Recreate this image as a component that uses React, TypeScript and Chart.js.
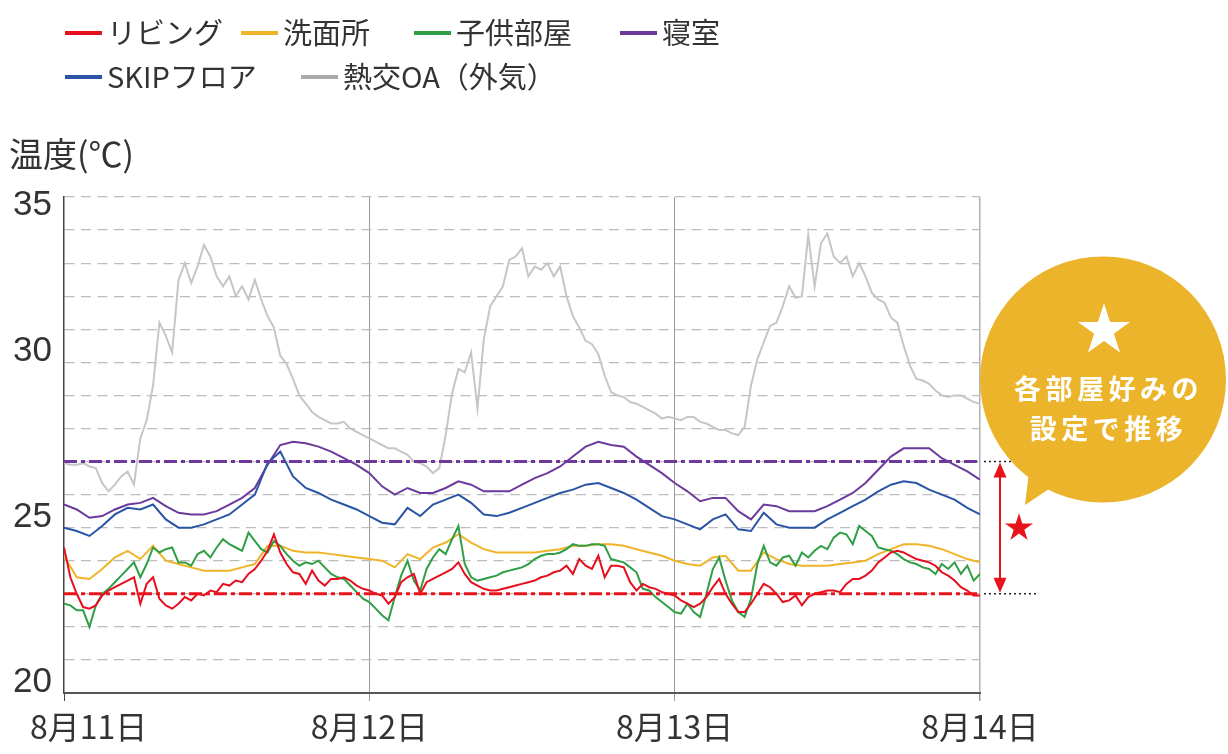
import React, { useEffect, useRef } from 'react';
import { Chart, registerables } from 'chart.js';

Chart.register(...registerables);

// ---- data ----
const dayLabels = ['8月11日', '8月12日', '8月13日', '8月14日'];
const yTickLabels = [20, 25, 30, 35];
const seriesNames = ['リビング', '洗面所', '子供部屋', '寝室', 'SKIPフロア', '熱交OA（外気）'];
const seriesColors = ['#e60f1e', '#f0b429', '#2f9e44', '#6b3a9c', '#2a55a4', '#c6c6c6'];
const legendLineColors = ['#e60f1e', '#f0b429', '#2f9e44', '#6b3a9c', '#2a55a4', '#aaaaaa'];

const bedroomSetting = 27;
const livingSetting = 23;

// every 30 minutes, 8/11 0:00 -> 8/14 0:00
const livingTemps = [
  24.4, 23.5, 23.0, 22.6, 22.55, 22.65, 22.95, 23.1, 23.2, 23.3, 23.4, 23.5,
  22.7, 23.3, 23.5, 22.85, 22.65, 22.55, 22.7, 22.9, 22.8, 23.0, 22.95, 23.1,
  23.05, 23.3, 23.25, 23.4, 23.35, 23.6, 23.75, 24.0, 24.3, 24.8, 24.25, 23.9,
  23.65, 23.6, 23.3, 23.7, 23.4, 23.25, 23.45, 23.45, 23.5, 23.4, 23.25, 23.15,
  23.1, 23.0, 22.95, 22.7, 22.9, 23.35, 23.5, 23.6, 23.0, 23.35, 23.45, 23.55,
  23.65, 23.75, 23.95, 23.6, 23.35, 23.25, 23.15, 23.1, 23.1, 23.15, 23.2, 23.25,
  23.3, 23.35, 23.4, 23.5, 23.55, 23.65, 23.7, 23.85, 23.6, 24.05, 23.85, 23.75,
  24.15, 23.5, 23.85, 23.85, 23.8, 23.35, 23.1, 23.3, 23.2, 23.15, 23.05, 23.0,
  22.95, 22.8, 22.7, 22.6, 22.7, 22.9, 23.2, 23.45, 23.0, 22.7, 22.45, 22.45,
  22.7, 23.0, 23.3, 23.2, 23.0, 22.75, 22.8, 22.95, 22.65, 22.9, 23.0, 23.05,
  23.1, 23.1, 23.05, 23.3, 23.45, 23.45, 23.55, 23.7, 23.95, 24.1, 24.25, 24.3,
  24.25, 24.15, 24.05, 24.0, 23.95, 23.85, 23.65, 23.55, 23.4, 23.2, 23.1, 22.95,
  22.95,
];

const kidsRoomTemps = [
  22.7, 22.65, 22.5, 22.5, 22.0, 22.65, 23.0, 23.15, 23.35, 23.55, 23.75, 23.95,
  23.5, 23.9, 24.4, 24.25, 24.35, 24.4, 23.95, 23.95, 23.85, 24.2, 24.3, 24.1,
  24.4, 24.65, 24.5, 24.4, 24.3, 24.85, 24.6, 24.35, 24.25, 24.6, 24.45, 24.2,
  24.0, 23.85, 23.95, 23.9, 24.0, 23.8, 23.6, 23.5, 23.45, 23.25, 23.05, 22.85,
  22.75, 22.55, 22.35, 22.2, 22.9, 23.55, 24.0, 23.4, 23.1, 23.75, 24.1, 24.35,
  24.2, 24.65, 25.05, 23.9, 23.5, 23.4, 23.45, 23.5, 23.55, 23.65, 23.7, 23.75,
  23.8, 23.9, 24.05, 24.15, 24.2, 24.2, 24.25, 24.35, 24.5, 24.45, 24.45, 24.5,
  24.5, 24.45, 24.05, 24.0, 23.95, 23.8, 23.65, 23.15, 23.1, 22.9, 22.75, 22.6,
  22.45, 22.4, 22.7, 22.45, 22.3, 23.0, 23.75, 24.1, 23.4, 22.8, 22.45, 22.3,
  22.85, 23.9, 24.45, 23.95, 23.85, 24.1, 24.15, 23.85, 24.25, 24.1, 24.3, 24.45,
  24.35, 24.7, 24.85, 24.8, 24.5, 25.05, 24.9, 24.75, 24.4, 24.35, 24.3, 24.2,
  24.05, 23.95, 23.9, 23.8, 23.75, 23.6, 23.9, 23.75, 23.95, 23.6, 23.85, 23.4,
  23.6,
];

const outsideTemps = [
  26.95, 26.9, 26.9, 26.95, 26.85, 26.8, 26.35, 26.1, 26.3, 26.55, 26.7, 26.3,
  27.7, 28.25, 29.3, 31.2, 30.8, 30.3, 32.5, 33.0, 32.4, 32.9, 33.55, 33.2,
  32.6, 32.3, 32.6, 32.0, 32.3, 31.9, 32.5, 31.9, 31.4, 31.05, 30.2, 29.95,
  29.5, 29.0, 28.75, 28.5, 28.35, 28.25, 28.15, 28.15, 28.2, 28.0, 27.9, 27.8,
  27.7, 27.6, 27.5, 27.4, 27.4, 27.3, 27.2, 27.0, 26.95, 26.85, 26.65, 26.8,
  27.8, 29.05, 29.8, 29.7, 30.3, 28.6, 30.7, 31.7, 32.0, 32.3, 33.1, 33.2,
  33.45, 32.6, 32.9, 32.8, 33.0, 32.6, 32.9, 32.0, 31.4, 31.05, 30.65, 30.55,
  30.25, 29.6, 29.1, 29.0, 28.95, 28.8, 28.75, 28.65, 28.55, 28.45, 28.3, 28.35,
  28.3, 28.25, 28.35, 28.35, 28.2, 28.15, 28.05, 27.95, 27.95, 27.85, 27.8, 28.05,
  29.3, 30.1, 30.6, 31.1, 31.2, 31.7, 32.3, 31.95, 32.0, 33.85, 32.3, 33.6,
  33.9, 33.2, 33.0, 33.2, 32.6, 33.0, 32.6, 32.1, 31.9, 31.8, 31.35, 31.2,
  30.5, 29.9, 29.5, 29.45, 29.35, 29.15, 29.0, 28.95, 29.0, 29.0, 28.9, 28.8,
  28.75,
];

// every hour, 8/11 0:00 -> 8/14 0:00
const washroomTemps = [
  24.15, 23.5, 23.45, 23.75, 24.1, 24.3, 24.05, 24.45, 24.0, 23.9,
  23.8, 23.7, 23.7, 23.7, 23.8, 23.9, 24.45, 24.45, 24.3, 24.25,
  24.25, 24.2, 24.15, 24.1, 24.05, 24.0, 23.8, 24.2, 24.05, 24.4,
  24.55, 24.8, 24.55, 24.35, 24.25, 24.25, 24.25, 24.25, 24.3, 24.35,
  24.45, 24.45, 24.5, 24.5, 24.45, 24.35, 24.25, 24.15, 24.0, 23.9,
  23.85, 24.1, 24.15, 23.7, 23.7, 24.25, 24.05, 23.9, 23.85, 23.85,
  23.85, 23.9, 23.95, 24.0, 24.2, 24.35, 24.5, 24.5, 24.45, 24.35,
  24.2, 24.05, 23.95,
];

const bedroomTemps = [
  25.7, 25.55, 25.3, 25.35, 25.55, 25.7, 25.75, 25.9, 25.65, 25.45,
  25.4, 25.4, 25.5, 25.7, 25.9, 26.2, 26.9, 27.5, 27.6, 27.55,
  27.45, 27.3, 27.1, 26.9, 26.65, 26.25, 26.0, 26.2, 26.05, 26.05,
  26.2, 26.4, 26.3, 26.1, 26.1, 26.1, 26.3, 26.5, 26.65, 26.85,
  27.15, 27.45, 27.6, 27.5, 27.45, 27.15, 26.9, 26.65, 26.35, 26.1,
  25.8, 25.9, 25.9, 25.5, 25.25, 25.7, 25.65, 25.5, 25.5, 25.5,
  25.65, 25.85, 26.05, 26.35, 26.75, 27.15, 27.4, 27.4, 27.4, 27.1,
  26.9, 26.7, 26.45,
];

const skipFloorTemps = [
  25.0, 24.9, 24.75, 25.05, 25.4, 25.6, 25.55, 25.7, 25.25, 25.0,
  25.0, 25.1, 25.25, 25.4, 25.7, 26.0, 26.95, 27.3, 26.55, 26.2,
  26.05, 25.85, 25.7, 25.55, 25.35, 25.15, 25.1, 25.6, 25.35, 25.7,
  25.85, 26.0, 25.75, 25.4, 25.35, 25.45, 25.6, 25.75, 25.9, 26.05,
  26.15, 26.3, 26.35, 26.2, 26.05, 25.85, 25.6, 25.35, 25.25, 25.1,
  24.95, 25.25, 25.4, 24.95, 24.9, 25.45, 25.1, 25.0, 25.0, 25.0,
  25.25, 25.45, 25.65, 25.85, 26.1, 26.3, 26.4, 26.35, 26.15, 26.0,
  25.85, 25.6, 25.4,
];

const halfHourly = (arr: number[]) => arr.map((v, i) => ({ x: i / 2, y: v }));
const hourly = (arr: number[]) => arr.map((v, i) => ({ x: i, y: v }));

function drawStar(ctx: CanvasRenderingContext2D, cx: number, cy: number, r: number, color: string) {
  const inner = r * 0.382;
  ctx.beginPath();
  for (let i = 0; i < 10; i++) {
    const rad = i % 2 === 0 ? r : inner;
    const a = -Math.PI / 2 + (i * Math.PI) / 5;
    const px = cx + rad * Math.cos(a);
    const py = cy + rad * Math.sin(a);
    if (i === 0) ctx.moveTo(px, py);
    else ctx.lineTo(px, py);
  }
  ctx.closePath();
  ctx.fillStyle = color;
  ctx.fill();
}

const decorPlugin = {
  id: 'decor',
  afterDraw(chart: any) {
    const { ctx, chartArea, scales } = chart;
    const x = scales.x;
    const y = scales.y;
    ctx.save();
    // y tick labels
    ctx.fillStyle = '#333';
    ctx.font = '35px "Liberation Sans", Arial, sans-serif';
    ctx.textAlign = 'right';
    ctx.textBaseline = 'alphabetic';
    yTickLabels.forEach((v) => {
      const py = y.getPixelForValue(v);
      const base = v === y.max ? py + 18 : py - 1;
      ctx.fillText(String(v), chartArea.left - 12, base);
    });
    // x tick labels
    ctx.font = '32px "Noto Sans CJK JP", sans-serif';
    ctx.textBaseline = 'middle';
    dayLabels.forEach((t, i) => {
      const px = x.getPixelForValue(i * 24);
      if (i === 0) {
        ctx.textAlign = 'left';
        ctx.fillText(t, px - 34, chartArea.bottom + 34);
      } else {
        ctx.textAlign = 'center';
        ctx.fillText(t, px, chartArea.bottom + 34);
      }
    });

    const yTop = y.getPixelForValue(bedroomSetting);
    const yBot = y.getPixelForValue(livingSetting);
    // dotted extensions
    ctx.strokeStyle = '#222';
    ctx.lineWidth = 1.6;
    ctx.setLineDash([2, 3]);
    ctx.beginPath();
    ctx.moveTo(chartArea.right + 4, yTop);
    ctx.lineTo(chartArea.right + 31, yTop);
    ctx.moveTo(chartArea.right + 4, yBot);
    ctx.lineTo(chartArea.right + 57, yBot);
    ctx.stroke();
    ctx.setLineDash([]);

    // red double arrow
    const ax = chartArea.right + 20;
    ctx.strokeStyle = '#e8141c';
    ctx.fillStyle = '#e8141c';
    ctx.lineWidth = 2;
    ctx.beginPath();
    ctx.moveTo(ax, yTop + 12);
    ctx.lineTo(ax, yBot - 12);
    ctx.stroke();
    ctx.beginPath();
    ctx.moveTo(ax, yTop + 1);
    ctx.lineTo(ax - 6.5, yTop + 16);
    ctx.lineTo(ax + 6.5, yTop + 16);
    ctx.closePath();
    ctx.fill();
    ctx.beginPath();
    ctx.moveTo(ax, yBot - 1);
    ctx.lineTo(ax - 6.5, yBot - 16);
    ctx.lineTo(ax + 6.5, yBot - 16);
    ctx.closePath();
    ctx.fill();

    // bubble
    ctx.fillStyle = '#ebb42b';
    ctx.beginPath();
    ctx.arc(1103, 379.5, 123, 0, Math.PI * 2);
    ctx.fill();
    ctx.beginPath();
    ctx.moveTo(1025, 505);
    ctx.lineTo(1031, 455);
    ctx.lineTo(1070, 475);
    ctx.closePath();
    ctx.fill();

    drawStar(ctx, 1104, 330.5, 27.3, '#ffffff');
    drawStar(ctx, 1019, 528, 14.7, '#e8141c');
    ctx.restore();
  },
};

export default function App() {
  const canvasRef = useRef<HTMLCanvasElement | null>(null);

  useEffect(() => {
    const canvas = canvasRef.current;
    if (!canvas) return;
    const lineDs = (label: string, color: string, data: any[], width = 2) => ({
      label,
      data,
      borderColor: color,
      backgroundColor: color,
      borderWidth: width,
      pointRadius: 0,
      tension: 0,
      fill: false,
    });
    const refDs = (color: string, value: number) => ({
      label: '',
      data: [
        { x: 0, y: value },
        { x: 72, y: value },
      ],
      borderColor: color,
      borderWidth: 3,
      borderDash: [13, 4, 4, 4],
      pointRadius: 0,
      fill: false,
    });
    const chart = new Chart(canvas, {
      type: 'line',
      data: {
        datasets: [
          refDs('#6b3a9c', bedroomSetting),
          refDs('#e8141c', livingSetting),
          lineDs(seriesNames[0], seriesColors[0], halfHourly(livingTemps)),
          lineDs(seriesNames[2], seriesColors[2], halfHourly(kidsRoomTemps)),
          lineDs(seriesNames[1], seriesColors[1], hourly(washroomTemps)),
          lineDs(seriesNames[4], seriesColors[4], hourly(skipFloorTemps)),
          lineDs(seriesNames[3], seriesColors[3], hourly(bedroomTemps)),
          lineDs(seriesNames[5], seriesColors[5], halfHourly(outsideTemps)),
        ] as any,
      },
      options: {
        animation: false,
        responsive: false,
        events: [],
        layout: { padding: { top: 197, right: 248, left: 0, bottom: 0 } },
        plugins: {
          legend: { display: false },
          tooltip: { enabled: false },
        },
        scales: {
          x: {
            type: 'linear',
            min: 0,
            max: 72,
            ticks: { stepSize: 24, display: false },
            grid: {
              color: (c: any) => (c.tick && c.tick.value === 0 ? 'rgba(0,0,0,0)' : c.tick && c.tick.value === 72 ? '#b0b0b0' : '#9a9a9a'),
              lineWidth: (c: any) => (c.tick && c.tick.value === 72 ? 1.5 : 1),
              tickColor: (c: any) => (c.tick && c.tick.value === 0 ? '#444' : '#9a9a9a'),
              tickLength: 8,
              drawTicks: true,
            },
            border: { display: true, color: '#555', width: 2 },
            afterFit: (s: any) => {
              s.height = 61;
            },
          },
          y: {
            type: 'linear',
            min: 20,
            max: 35,
            ticks: { stepSize: 1, display: false },
            grid: { color: '#bdbdbd', lineWidth: 1.2, drawTicks: false },
            border: { display: true, color: '#444', width: 1.5, dash: [10, 6.5] },
            afterFit: (s: any) => {
              s.width = 64;
            },
          },
        },
      } as any,
      plugins: [decorPlugin],
    });
    return () => chart.destroy();
  }, []);

  const legendPos = [
    { i: 0, x: 65, y: 33 },
    { i: 1, x: 241, y: 33 },
    { i: 2, x: 414, y: 33 },
    { i: 3, x: 620, y: 33 },
    { i: 4, x: 65, y: 77 },
    { i: 5, x: 301, y: 77 },
  ];

  const cjk = '"Noto Sans CJK JP", "Noto Sans", sans-serif';

  return (
    <div style={{ position: 'fixed', left: 0, top: 0, width: 1228, height: 754, background: '#fff', overflow: 'hidden' }}>
      <canvas ref={canvasRef} width={1228} height={754} style={{ display: 'block', width: 1228, height: 754 }} />
      {legendPos.map((p) => (
        <React.Fragment key={p.i}>
          <div
            style={{
              position: 'absolute',
              left: p.x,
              top: p.y - 2,
              width: 37,
              height: 4,
              background: legendLineColors[p.i],
            }}
          />
          <div
            style={{
              position: 'absolute',
              left: p.x + 42,
              top: p.y - 22,
              height: 40,
              lineHeight: '40px',
              fontSize: 29,
              fontFamily: cjk,
              color: '#333',
              whiteSpace: 'nowrap',
            }}
          >
            {seriesNames[p.i]}
          </div>
        </React.Fragment>
      ))}
      <div
        style={{
          position: 'absolute',
          left: 9,
          top: 133,
          lineHeight: '40px',
          fontSize: 34,
          fontFamily: cjk,
          color: '#333',
          whiteSpace: 'nowrap',
        }}
      >
        温度(℃)
      </div>
      <div
        style={{
          position: 'absolute',
          left: 983,
          width: 242,
          top: 368,
          textAlign: 'center',
          fontFamily: cjk,
          fontWeight: 700,
          fontSize: 27,
          lineHeight: '40px',
          letterSpacing: '4.5px',
          paddingLeft: 4.5,
          color: '#fff',
          whiteSpace: 'nowrap',
        }}
      >
        <div>各部屋好みの</div>
        <div>設定で推移</div>
      </div>
    </div>
  );
}
